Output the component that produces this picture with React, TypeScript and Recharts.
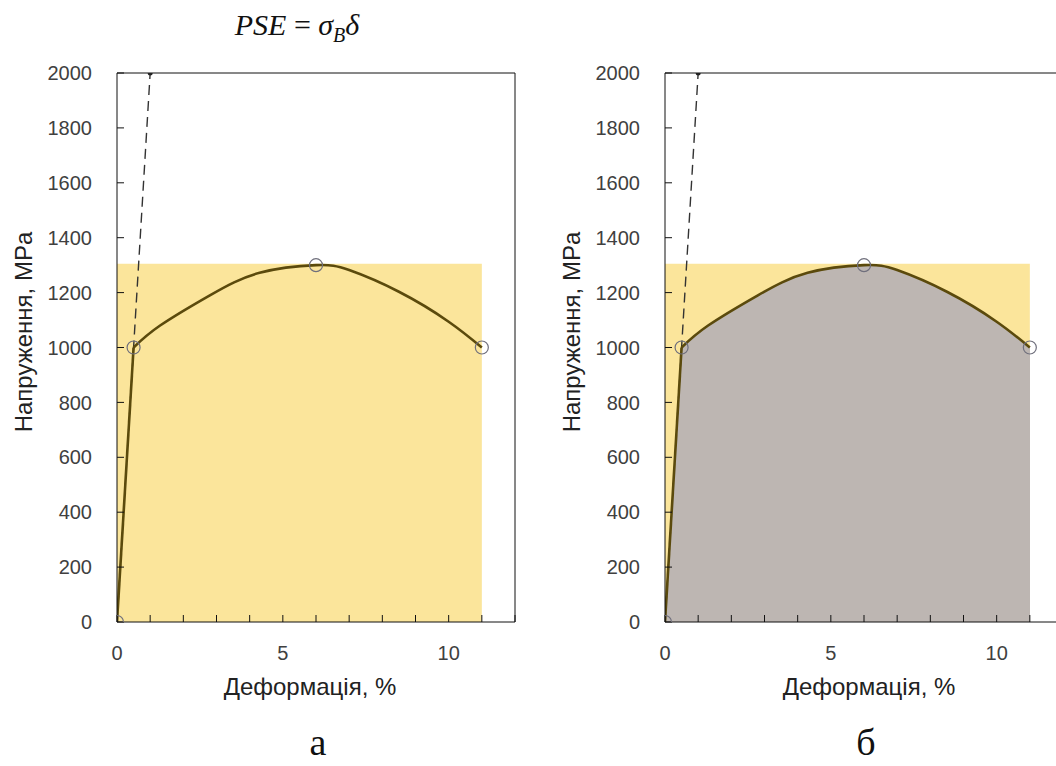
import {
  Area,
  ComposedChart,
  Label,
  Line,
  ReferenceArea,
  ReferenceLine,
  Scatter,
  XAxis,
  YAxis,
} from 'recharts'

// elastic segment of the stress-strain curve (strain %, stress MPa)
const elasticPart = [
  { x: 0, y: 0 },
  { x: 0.5, y: 1000 },
]

// plastic segment
const plasticPart = [
  { x: 0.5, y: 1000 },
  { x: 1.3, y: 1080 },
  { x: 2.8, y: 1190 },
  { x: 4.3, y: 1272 },
  { x: 6, y: 1300 },
  { x: 7, y: 1282 },
  { x: 8.5, y: 1203 },
  { x: 10, y: 1094 },
  { x: 11, y: 1000 },
]

// open circle markers
const keyPoints = [
  { x: 0, y: 0 },
  { x: 0.5, y: 1000 },
  { x: 6, y: 1300 },
  { x: 11, y: 1000 },
]

// dashed elastic modulus line
const modulusLine = [
  { x: 0, y: 0 },
  { x: 1, y: 2000 },
]

const xTicks = [0, 1, 2, 3, 4, 5, 6, 7, 8, 9, 10, 11, 12]
const xTickLabels = [0, 5, 10]
const yTicks = [0, 200, 400, 600, 800, 1000, 1200, 1400, 1600, 1800, 2000]

// PSE rectangle: sigma_B x delta
const sigmaB = 1305
const delta = 11

const xTitle = 'Деформація, %'
const yTitle = 'Напруження, MPa'
const panelLabels = ['а', 'б']

const curveColor = '#5b4a0c'
const yellow = '#fbe59b'
const grey = '#bdb6b2'
const sans = '"Liberation Sans", Arial, sans-serif'

function makeXTitle(shift: number) {
  return (props: any) => {
    const vb = props.viewBox
    return (
      <text
        x={vb.x + vb.width / 2 + shift}
        y={vb.y + 64}
        textAnchor='middle'
        dominantBaseline='central'
        fontSize={24}
        fontFamily={sans}
        fill='#222'
      >
        {xTitle}
      </text>
    )
  }
}

function YTitle(props: any) {
  const vb = props.viewBox
  const cx = vb.x + 23
  const cy = vb.y + 259
  return (
    <text
      x={cx}
      y={cy}
      transform={`rotate(-90 ${cx} ${cy})`}
      textAnchor='middle'
      dominantBaseline='central'
      fontSize={24}
      fontFamily={sans}
      fill='#222'
    >
      {yTitle}
    </text>
  )
}

function StrainChart({ shaded, titleShift }: { shaded: boolean; titleShift: number }) {
  return (
    <ComposedChart
      width={540}
      height={720}
      margin={{ top: 73, right: 25, bottom: 0, left: 0 }}
    >
      <XAxis
        type='number'
        dataKey='x'
        domain={[0, 12]}
        ticks={xTicks}
        interval={0}
        allowDataOverflow
        height={98}
        stroke='#111'
        tickSize={-7}
        tickMargin={31}
        tick={{ fill: '#404040', fontSize: 20, fontFamily: sans }}
        tickFormatter={(v) => (xTickLabels.includes(v) ? String(v) : '')}
      >
        <Label content={makeXTitle(titleShift)} />
      </XAxis>
      <YAxis
        type='number'
        dataKey='y'
        domain={[0, 2000]}
        ticks={yTicks}
        interval={0}
        allowDataOverflow
        width={117}
        stroke='#111'
        tickSize={-7}
        tickMargin={32}
        tick={{ fill: '#404040', fontSize: 20, fontFamily: sans }}
      >
        <Label content={YTitle} />
      </YAxis>
      <ReferenceArea
        x1={0}
        x2={delta}
        y1={0}
        y2={sigmaB}
        fill={yellow}
        fillOpacity={1}
        stroke='none'
      />
      {shaded && (
        <Area
          data={elasticPart}
          dataKey='y'
          type='linear'
          fill={grey}
          fillOpacity={1}
          stroke='none'
          shapeRendering='crispEdges'
          isAnimationActive={false}
        />
      )}
      {shaded && (
        <Area
          data={plasticPart}
          dataKey='y'
          type='natural'
          fill={grey}
          fillOpacity={1}
          stroke='none'
          shapeRendering='crispEdges'
          isAnimationActive={false}
        />
      )}
      <ReferenceLine y={2000} stroke='#111' ifOverflow='visible' />
      <ReferenceLine x={12} stroke='#111' ifOverflow='visible' />
      <Line
        data={modulusLine}
        dataKey='y'
        type='linear'
        stroke='#333'
        strokeWidth={1.4}
        strokeDasharray='10 6'
        dot={(p: any) =>
          p.index === 1 ? (
            <circle key={p.index} cx={p.cx} cy={p.cy} r={2.5} fill='#222' />
          ) : (
            <g key={p.index} />
          )
        }
        isAnimationActive={false}
      />
      <Line
        data={elasticPart}
        dataKey='y'
        type='linear'
        stroke={curveColor}
        strokeWidth={2.6}
        dot={false}
        isAnimationActive={false}
      />
      <Line
        data={plasticPart}
        dataKey='y'
        type='natural'
        stroke={curveColor}
        strokeWidth={2.6}
        dot={false}
        isAnimationActive={false}
      />
      <Scatter
        data={keyPoints}
        isAnimationActive={false}
        shape={(p: any) => (
          <circle
            cx={p.cx}
            cy={p.cy}
            r={6.5}
            fill='none'
            stroke='#6f6f7c'
            strokeWidth={1.2}
          />
        )}
      />
    </ComposedChart>
  )
}

export default function App() {
  return (
    <div
      style={{
        position: 'absolute',
        left: 0,
        top: 0,
        width: 1056,
        height: 766,
        overflow: 'hidden',
        background: '#fff',
      }}
    >
      <div
        style={{
          position: 'absolute',
          left: 177,
          top: 8,
          width: 240,
          textAlign: 'center',
          fontFamily: '"Liberation Serif", serif',
          fontSize: 30,
          color: '#111',
        }}
      >
        <i>PSE</i> = <i>σ</i>
        <sub style={{ fontSize: 20 }}>
          <i>B</i>
        </sub>
        <i>δ</i>
      </div>
      <div style={{ position: 'absolute', left: 0, top: 0 }}>
        <StrainChart shaded={false} titleShift={-6} />
      </div>
      <div style={{ position: 'absolute', left: 548, top: 0 }}>
        <StrainChart shaded={true} titleShift={5} />
      </div>
      {panelLabels.map((t, i) => (
        <div
          key={t}
          style={{
            position: 'absolute',
            left: i === 0 ? 268 : 816,
            top: 722,
            width: 100,
            textAlign: 'center',
            fontFamily: '"Liberation Serif", serif',
            fontSize: 38,
            lineHeight: '40px',
            color: '#111',
          }}
        >
          {t}
        </div>
      ))}
    </div>
  )
}
